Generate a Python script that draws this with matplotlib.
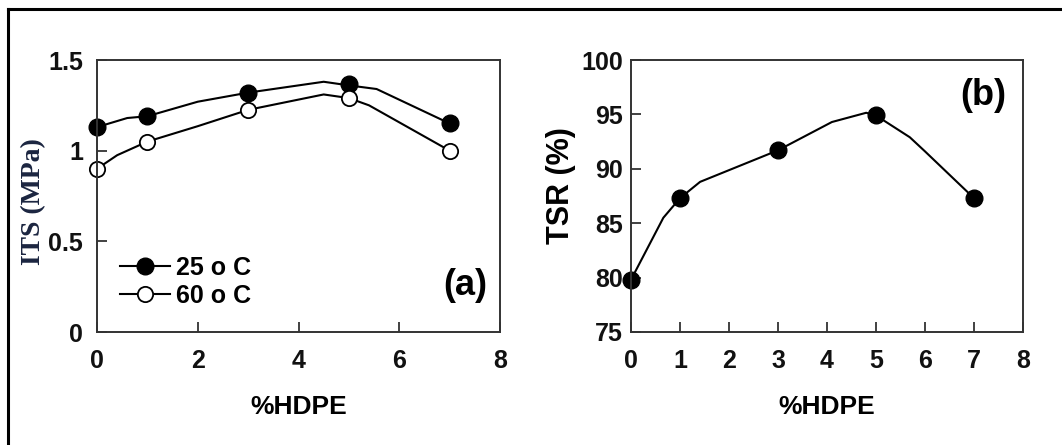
import matplotlib.pyplot as plt
from matplotlib.lines import Line2D

# measured points
hdpe = [0, 1, 3, 5, 7]
its_25 = [1.13, 1.19, 1.32, 1.37, 1.15]
its_60 = [0.90, 1.05, 1.225, 1.29, 1.00]
tsr = [79.8, 87.3, 91.7, 94.9, 87.3]

# hand-drawn trend curves through the points
its_25_curve_x = [0, 0.6, 1, 2, 3, 4.5, 5, 5.55, 7]
its_25_curve_y = [1.13, 1.18, 1.19, 1.27, 1.32, 1.38, 1.36, 1.34, 1.15]
its_60_curve_x = [0, 0.4, 1, 2, 3, 4.5, 5, 5.4, 7]
its_60_curve_y = [0.90, 0.975, 1.05, 1.135, 1.225, 1.31, 1.29, 1.25, 1.00]
tsr_curve_x = [0, 0.66, 1, 1.41, 3, 4.1, 4.8, 5, 5.69, 6.0, 7]
tsr_curve_y = [79.8, 85.5, 87.3, 88.8, 91.7, 94.3, 95.15, 94.9, 92.9, 91.6, 87.3]

plt.rcParams['font.family'] = ['Liberation Sans', 'DejaVu Sans']
plt.rcParams['font.weight'] = 'bold'
plt.rcParams['axes.labelweight'] = 'bold'

fig = plt.figure(figsize=(10.62, 4.45), dpi=100)

# outer frame (top and left edges)
fig.add_artist(Line2D([8 / 1062, 1], [1 - 9 / 445, 1 - 9 / 445],
                      transform=fig.transFigure, color='black', lw=2.2))
fig.add_artist(Line2D([8 / 1062, 8 / 1062], [0, 1 - 9 / 445],
                      transform=fig.transFigure, color='black', lw=2.2))

ax1 = fig.add_axes([97 / 1062, 113 / 445, 403 / 1062, 272 / 445])
ax2 = fig.add_axes([631 / 1062, 113 / 445, 392 / 1062, 272 / 445])


def style(ax):
    for s in ax.spines.values():
        s.set_color('#333333')
        s.set_linewidth(1.4)
    ax.tick_params(direction='in', length=7, width=1.3, color='#333333',
                   labelsize=18, labelcolor='#111111')
    ax.tick_params(axis='x', pad=12)
    ax.set_xlim(0, 8)


# (a) ITS
style(ax1)
ax1.plot(its_25_curve_x, its_25_curve_y, color='black', lw=1.5)
ax1.plot(its_60_curve_x, its_60_curve_y, color='black', lw=1.5)
ax1.plot(hdpe, its_25, 'o', color='black', ms=12, clip_on=False)
ax1.plot(hdpe, its_60, 'o', mfc='white', mec='black', mew=1.3, ms=11,
         clip_on=False)
ax1.set_ylim(0, 1.5)
ax1.set_yticks([0, 0.5, 1, 1.5])
ax1.set_yticklabels(['0', '0.5', '1', '1.5'])
ax1.set_xticks([0, 2, 4, 6, 8])
ax1.tick_params(axis='y', pad=10)
ax1.set_xlabel('%HDPE', fontsize=19, labelpad=16)
ax1.set_ylabel('ITS (MPa)', fontsize=20, family='Liberation Serif',
               color='#1b2540')
ax1.yaxis.set_label_coords(-0.127, 0.48)

h25 = Line2D([], [], color='black', lw=1.5, marker='o', ms=12)
h60 = Line2D([], [], color='black', lw=1.5, marker='o', ms=11, mfc='white',
             mew=1.3)
ax1.legend([h25, h60], ['25 o C', '60 o C'], frameon=False, fontsize=18,
           loc='lower left', bbox_to_anchor=(0.057, 0.09), handlelength=2.0,
           handletextpad=0.25, labelspacing=0.15, borderpad=0,
           borderaxespad=0)
ax1.text(0.915, 0.17, '(a)', transform=ax1.transAxes, fontsize=26,
         ha='center', va='center')

# (b) TSR
style(ax2)
ax2.plot(tsr_curve_x, tsr_curve_y, color='black', lw=1.5)
ax2.plot(hdpe, tsr, 'o', color='black', ms=12, clip_on=False)
ax2.set_ylim(75, 100)
ax2.set_yticks(range(75, 101, 5))
ax2.set_xticks(range(0, 9))
ax2.tick_params(axis='y', pad=6)
ax2.set_xlabel('%HDPE', fontsize=19, labelpad=16)
ax2.set_ylabel('TSR (%)', fontsize=22)
ax2.yaxis.set_label_coords(-0.14, 0.54)
ax2.text(0.898, 0.87, '(b)', transform=ax2.transAxes, fontsize=26,
         ha='center', va='center')

fig.savefig('out.png', dpi=100)
